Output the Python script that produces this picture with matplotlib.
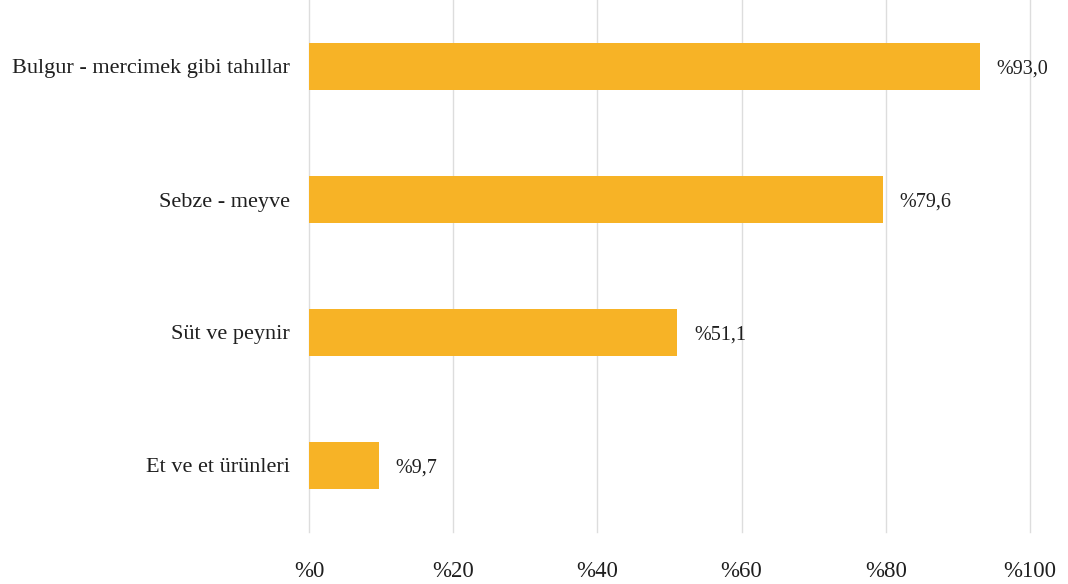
import matplotlib.pyplot as plt
import numpy as np

categories = ["Bulgur - mercimek gibi tahıllar", "Sebze - meyve", "Süt ve peynir", "Et ve et ürünleri"]
values = [93.0, 79.6, 51.1, 9.7]
x_ticks = [0, 20, 40, 60, 80, 100]

plt.rcParams['font.family'] = ['Liberation Serif', 'DejaVu Serif']

fig = plt.figure(figsize=(10.68, 5.84), dpi=100)
ax = fig.add_axes([309 / 1068, 1 - 532 / 584, (1030 - 309) / 1068, 532 / 584])

y = np.arange(len(categories))
bars = ax.barh(y, values, height=0.35, color="#F7B326", zorder=3)

# value labels to the right of each bar
for yi, v in zip(y, values):
    label = "%" + f"{v:.1f}".replace(".", ",")
    ax.text(v + 2.3, yi, label, va="center_baseline", ha="left", fontsize=14.5,
            color="#1F1F1F", zorder=4)

ax.set_ylim(len(categories) - 0.5, -0.5)
ax.set_xlim(0, 100)
ax.set_yticks(y)
ax.set_yticklabels(categories, fontsize=16, color="#1F1F1F")
ax.set_xticks(x_ticks)
ax.set_xticklabels(["%" + str(t) for t in x_ticks], fontsize=16.5, color="#1F1F1F")

ax.tick_params(axis="y", length=0, pad=14)
ax.tick_params(axis="x", length=0, pad=21)
ax.grid(axis="x", color="#DDDDDD", linewidth=1.0, zorder=0)
for gl in ax.get_xgridlines():
    gl.set_clip_on(False)
for s in ax.spines.values():
    s.set_visible(False)

plt.savefig("out.png", dpi=100)
